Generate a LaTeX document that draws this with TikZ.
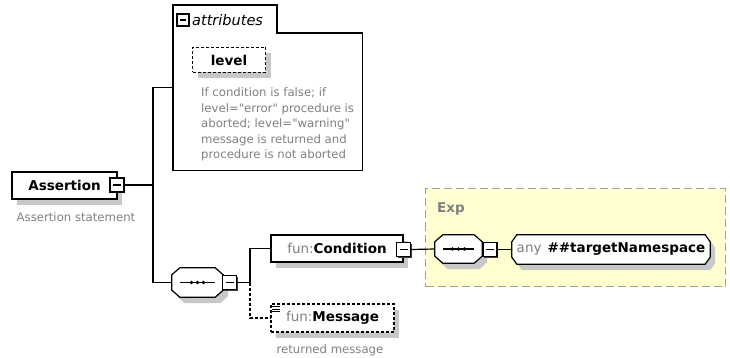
\documentclass[tikz,border=0pt]{standalone}
\usepackage{fontspec}
\setmainfont{DejaVu Sans}
\usetikzlibrary{shadows}

\definecolor{shadowgray}{RGB}{200,200,200}
\definecolor{notegray}{RGB}{128,128,128}
\definecolor{groupyellow}{RGB}{255,255,208}
\definecolor{groupborder}{RGB}{160,160,160}

% outline with cut corners: node, cut x, cut y, offset x, offset y
\newcommand{\octpath}[5]{%
  ([xshift=#2+#4,yshift=#5]#1.north west) -- ([xshift=-#2+#4,yshift=#5]#1.north east)
  -- ([xshift=#4,yshift=-#3+#5]#1.north east) -- ([xshift=#4,yshift=#3+#5]#1.south east)
  -- ([xshift=-#2+#4,yshift=#5]#1.south east) -- ([xshift=#2+#4,yshift=#5]#1.south west)
  -- ([xshift=#4,yshift=#3+#5]#1.south west) -- ([xshift=#4,yshift=-#3+#5]#1.north west) -- cycle}

\tikzset{
  conn/.style={line width=1.2pt},
  elem/.style={draw,line width=1.2pt,fill=white,rectangle,inner sep=0pt,
    general shadow={shadow xshift=5pt,shadow yshift=-6pt,fill=shadowgray},
    font=\fontsize{13.5}{16}\selectfont},
  optelem/.style={elem,dash pattern=on 3pt off 2pt},
  minusbox/.style={draw,line width=1.2pt,fill=white,rectangle,minimum size=14pt,inner sep=0pt,
    general shadow={shadow xshift=1.2pt,shadow yshift=-1.2pt,fill=black!75},
    path picture={\draw[line width=1.2pt] ([xshift=3pt]path picture bounding box.west)
      -- ([xshift=-3pt]path picture bounding box.east);}},
  octframe/.style={rectangle,inner sep=0pt,font=\fontsize{13.5}{16}\selectfont},
  note/.style={text=notegray,font=\fontsize{11.7}{15.5}\selectfont,inner sep=0pt},
}

\begin{document}
\begin{tikzpicture}[x=1pt,y=-1pt]
  \useasboundingbox (0,0) rectangle (730,358);
  %% Group
  \node[draw=groupborder,fill=groupyellow,line width=1pt,dash pattern=on 8pt off 4pt,
    minimum width=300pt,minimum height=98pt,anchor=north west,inner sep=0pt] (exp) at (425,188) {};
  \node[anchor=west,text=notegray,inner sep=0pt,font=\bfseries\fontsize{13.5}{16}\selectfont] (exptitle) at (437,209) {Exp};
  %% Root
  \node[elem,minimum width=105pt,minimum height=27pt] (assertion) at (64.5,185.5) {\textbf{Assertion}\hspace{5pt}};
  \node[minusbox] (assertionminus) at (117,185) {};
  \node[note] (assertiondoc) at (76,217) {Assertion statement};
  %% Attributes
  \node[inner sep=0pt,minimum width=189pt,minimum height=165pt,anchor=north west] (attrs) at (173,5) {};
  \draw[line width=1.2pt] (attrs.south west) -- (attrs.north west) -- ++(104,0) -- ++(0,28)
    -- (attrs.north east |- 0,33) -- (attrs.south east) -- cycle;
  \node[minusbox,minimum size=12pt] (attrsminus) at (183,20) {};
  \node[anchor=west,inner sep=0pt,font=\itshape\fontsize{14.5}{17}\selectfont] (attrstitle) at (192,20) {attributes};
  \node[optelem,minimum width=73pt,minimum height=25pt] (level) at (229,60) {\textbf{level}};
  \node[note,anchor=north west,align=left] (leveldoc) at (201,87.5) {If condition is false; if\\level=\textquotedbl error\textquotedbl{} procedure is\\aborted; level=\textquotedbl warning\textquotedbl\\message is returned and\\procedure is not aborted};
  %% Sequence
  \node[octframe,minimum width=51pt,minimum height=29pt] (seq) at (197.5,282.5) {};
  \fill[shadowgray] \octpath{seq}{8pt}{7pt}{5pt}{-6pt};
  \filldraw[fill=white,line width=1.2pt] \octpath{seq}{8pt}{7pt}{0pt}{0pt};
  \draw[line width=1.2pt] ([xshift=8pt]seq.west) -- ([xshift=-8pt]seq.east);
  \foreach \dx in {-6,0,6}
    \fill ([xshift=\dx pt]seq.center) circle (1.8pt);
  \node[minusbox] (seqminus) at (229.5,282.5) {};
  \node[elem,minimum width=132pt,minimum height=27pt] (condition) at (337,248.5) {{\color{notegray}fun:}\textbf{Condition}\hspace{6pt}};
  \node[minusbox] (conditionminus) at (403.5,249.5) {};
  \node[optelem,minimum width=123pt,minimum height=28pt] (message) at (332.5,318) {{\color{notegray}fun:}\textbf{Message}};
  \foreach \dy in {3,5.5,8}
    \draw[line width=0.7pt] ([xshift=2pt,yshift=-\dy pt]message.north west) -- ++(8pt,0pt);
  \node[note] (messagedoc) at (330,350) {returned message};
  %% Inside the group
  \node[octframe,minimum width=47pt,minimum height=28pt] (expseq) at (458.5,249) {};
  \fill[shadowgray] \octpath{expseq}{8pt}{7pt}{5pt}{-6pt};
  \filldraw[fill=white,line width=1.2pt] \octpath{expseq}{8pt}{7pt}{0pt}{0pt};
  \draw[line width=1.2pt] ([xshift=8pt]expseq.west) -- ([xshift=-8pt]expseq.east);
  \foreach \dx in {-6,0,6}
    \fill ([xshift=\dx pt]expseq.center) circle (1.8pt);
  \node[minusbox] (expseqminus) at (490,249.5) {};
  \node[octframe,minimum width=198pt,minimum height=29pt] (any) at (611,249.5) {};
  \fill[shadowgray] \octpath{any}{5pt}{7pt}{5pt}{-6pt};
  \filldraw[fill=white,line width=1.2pt] \octpath{any}{5pt}{7pt}{0pt}{0pt};
  \node[octframe] (anytext) at (any.center) {{\color{notegray}any}\hspace{6pt}\textbf{\#\#targetNamespace}};
  %% Lines
  \coordinate (trunk) at (153,185);
  \coordinate (seqtrunk) at (250,282.5);
  \draw[conn] (assertionminus.east) -- (trunk);
  \draw[conn] (attrs.west) -| (trunk) |- (seq.west);
  \draw[conn] (seqminus.east) -- (seqtrunk) |- (condition.west);
  \draw[conn,dash pattern=on 3pt off 2pt] (seqtrunk) |- (message.west);
  \draw[conn] (conditionminus.east) -- (expseq.west);
  \draw[conn] (expseqminus.east) -- (any.west);
\end{tikzpicture}
\end{document}
